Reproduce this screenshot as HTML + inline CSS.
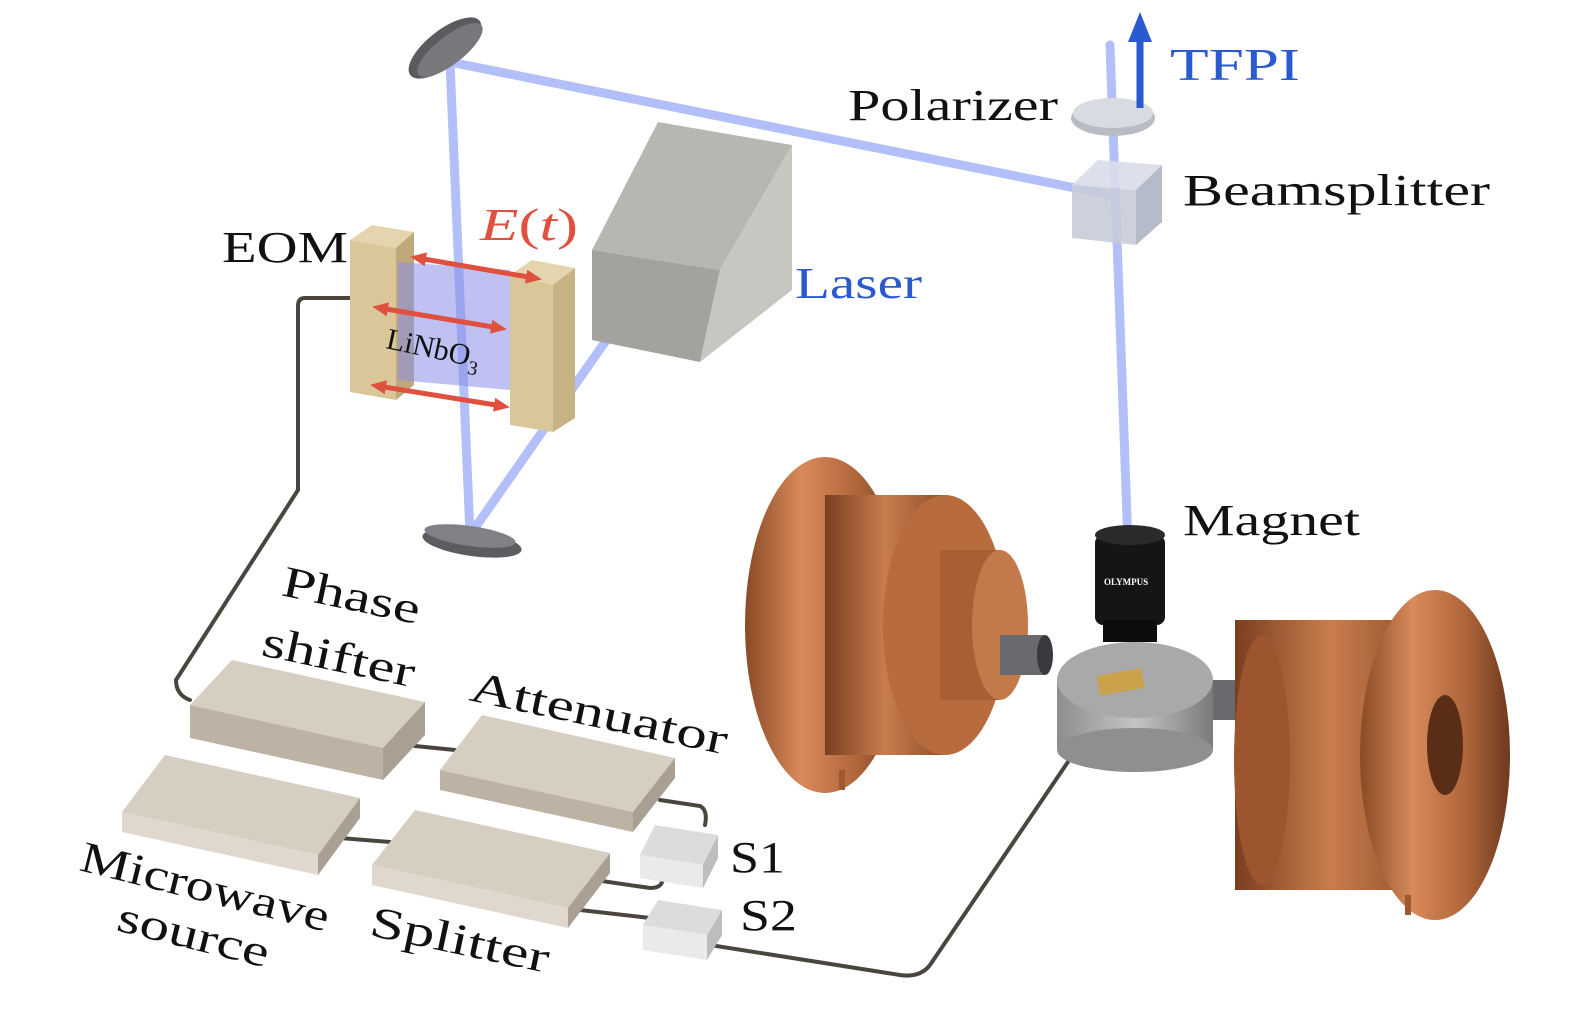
<!DOCTYPE html>
<html><head><meta charset="utf-8"><style>
html,body{margin:0;padding:0;background:#fff;}
svg{display:block;}
text{font-family:"Liberation Serif",serif;}
</style></head><body>
<svg width="1575" height="1014" viewBox="0 0 1575 1014" xmlns="http://www.w3.org/2000/svg">
<defs>
<linearGradient id="cu" x1="0" x2="1" y1="0" y2="0">
<stop offset="0" stop-color="#8a4a26"/><stop offset="0.35" stop-color="#d88a5a"/><stop offset="0.7" stop-color="#b0663a"/><stop offset="1" stop-color="#6e3a1e"/></linearGradient>
<linearGradient id="cu2" x1="0" x2="1" y1="0" y2="0">
<stop offset="0" stop-color="#7a3e20"/><stop offset="0.5" stop-color="#c97d4e"/><stop offset="1" stop-color="#8e4e2a"/></linearGradient>
<linearGradient id="metal" x1="0" x2="1"><stop offset="0" stop-color="#8d8d8d"/><stop offset="0.5" stop-color="#c4c4c4"/><stop offset="1" stop-color="#7a7a7a"/></linearGradient>
<marker id="ra" markerUnits="userSpaceOnUse" markerWidth="16" markerHeight="14" refX="8" refY="7" orient="auto-start-reverse"><path d="M0,0L16,7L0,14z" fill="#e0503e"/></marker>
</defs>

<!-- cables -->
<g fill="none" stroke="#4a463f" stroke-width="4" stroke-linecap="round">
<path d="M350,298 L305,298 Q298,298 298,306 L298,490 L176,680 Q176,695 190,700"/>
<path d="M405,745 L455,750"/>
<path d="M660,800 L700,806 Q708,810 705,825"/>
<path d="M340,838 L390,842"/>
<path d="M595,880 L650,888 Q665,888 662,875"/>
<path d="M580,910 L650,918"/>
<path d="M710,945 L900,975 Q920,978 930,965 L1110,700"/>
</g>

<!-- beams -->
<g stroke="#b2bff9" stroke-width="9" stroke-linecap="round">
<line x1="450" y1="62" x2="1110" y2="195"/>
<line x1="450" y1="62" x2="470" y2="535"/>
<line x1="470" y1="535" x2="640" y2="292"/>
<line x1="1110" y1="45" x2="1128" y2="545"/>
</g>

<!-- mirrors -->
<ellipse cx="445" cy="48" rx="44" ry="18" transform="rotate(-38 445 48)" fill="#5b5b5f"/>
<ellipse cx="450" cy="50" rx="40" ry="14" transform="rotate(-38 450 50)" fill="#77777c"/>
<ellipse cx="472" cy="543" rx="50" ry="13" transform="rotate(8 472 543)" fill="#5c5c60"/>
<ellipse cx="470" cy="536" rx="46" ry="10" transform="rotate(8 470 536)" fill="#808086"/>

<!-- laser box -->
<polygon points="592,250 658,122 792,145 720,270" fill="#b8b6b0"/>
<polygon points="592,250 720,270 700,362 592,340" fill="#a4a29c"/>
<polygon points="720,270 792,145 792,290 700,362" fill="#c8c6c0"/>

<!-- EOM -->
<polygon points="350,240 372,225 414,232 396,248" fill="#e4d5ae"/>
<polygon points="350,240 396,248 396,400 350,392" fill="#d9c79a"/>
<polygon points="396,248 414,232 414,385 396,400" fill="#bfa97a"/>
<polygon points="398,262 510,270 510,390 398,380" fill="#8a8ee8" opacity="0.55"/>
<polygon points="510,275 532,260 575,268 553,285" fill="#e4d5ae"/>
<polygon points="510,275 553,285 553,432 510,425" fill="#d9c79a"/>
<polygon points="553,285 575,268 575,418 553,432" fill="#c7b283"/>
<g stroke="#e0503e" stroke-width="5" marker-end="url(#ra)" marker-start="url(#ra)">
<line x1="418" y1="258" x2="534" y2="278"/>
<line x1="380" y1="308" x2="499" y2="328"/>
<line x1="378" y1="386" x2="502" y2="406"/>
</g>

<!-- magnets left -->
<ellipse cx="825" cy="625" rx="80" ry="168" fill="url(#cu)"/>
<rect x="825" y="495" width="120" height="260" fill="url(#cu2)"/>
<ellipse cx="945" cy="625" rx="62" ry="130" fill="#b86c3e"/>
<rect x="940" y="550" width="60" height="150" fill="#a95f34"/>
<ellipse cx="1000" cy="625" rx="28" ry="75" fill="#c27a4a"/>
<rect x="1000" y="635" width="45" height="40" fill="#6a6a6e"/>
<ellipse cx="1045" cy="655" rx="8" ry="20" fill="#3a3a3e"/>
<line x1="842" y1="770" x2="842" y2="790" stroke="#a0582e" stroke-width="6"/>
<!-- magnet right -->
<rect x="1205" y="680" width="30" height="40" fill="#6a6a6e"/>
<rect x="1235" y="620" width="190" height="270" fill="url(#cu2)"/>
<ellipse cx="1262" cy="760" rx="28" ry="125" fill="#9d5530"/>
<ellipse cx="1435" cy="755" rx="75" ry="165" fill="url(#cu)"/>
<ellipse cx="1445" cy="745" rx="18" ry="50" fill="#5a2e16"/>
<line x1="1408" y1="895" x2="1408" y2="915" stroke="#a0582e" stroke-width="6"/>

<!-- stage -->
<rect x="1057" y="680" width="156" height="70" fill="url(#metal)"/>
<ellipse cx="1135" cy="750" rx="78" ry="22" fill="#8f8f8f"/>
<ellipse cx="1135" cy="680" rx="78" ry="38" fill="#a9a9a9"/>
<rect x="1098" y="672" width="45" height="20" fill="#c9a24a" transform="rotate(-10 1120 682)"/>
<!-- objective -->
<rect x="1095" y="535" width="70" height="90" rx="8" fill="#151515"/>
<ellipse cx="1130" cy="535" rx="35" ry="10" fill="#2a2a2a"/>
<rect x="1103" y="620" width="54" height="22" fill="#0d0d0d"/>
<text x="1104" y="585" font-size="9" fill="#fff" font-family="Liberation Sans,sans-serif" font-weight="bold">OLYMPUS</text>

<!-- beamsplitter & polarizer -->
<polygon points="1072,185 1098,160 1162,165 1136,190" fill="#d9dde8" opacity="0.9"/>
<polygon points="1072,185 1136,190 1136,245 1072,238" fill="#c7ccd8" opacity="0.9"/>
<polygon points="1136,190 1162,165 1162,222 1136,245" fill="#aeb4c4" opacity="0.9"/>
<ellipse cx="1113" cy="118" rx="42" ry="18" fill="#b8bcc4"/>
<ellipse cx="1113" cy="113" rx="40" ry="15" fill="#d8dbe2"/>
<!-- TFPI arrow -->
<line x1="1140" y1="108" x2="1140" y2="38" stroke="#2a5ad0" stroke-width="7"/>
<polygon points="1128,42 1140,12 1152,42" fill="#2a5ad0"/>

<!-- slabs -->
<g>
<polygon points="190,705 232,660 425,702 383,748" fill="#d7cec2"/>
<polygon points="190,705 383,748 383,780 190,738" fill="#bdb2a4"/>
<polygon points="383,748 425,702 425,735 383,780" fill="#a9a093"/>
<polygon points="440,770 482,715 675,758 633,812" fill="#d7cec2"/>
<polygon points="440,770 633,812 633,832 440,790" fill="#bdb2a4"/>
<polygon points="633,812 675,758 675,778 633,832" fill="#a9a093"/>
<polygon points="122,812 165,755 360,798 318,855" fill="#d7cec2"/>
<polygon points="122,812 318,855 318,875 122,832" fill="#e0d8cc"/>
<polygon points="318,855 360,798 360,818 318,875" fill="#a9a093"/>
<polygon points="372,865 415,810 610,853 568,908" fill="#d7cec2"/>
<polygon points="372,865 568,908 568,928 372,885" fill="#e0d8cc"/>
<polygon points="568,908 610,853 610,873 568,928" fill="#a9a093"/>
<polygon points="640,855 655,825 718,835 703,865" fill="#dcdcdc"/>
<polygon points="640,855 703,865 703,888 640,878" fill="#eaeaea"/>
<polygon points="703,865 718,835 718,858 703,888" fill="#bdbdbd"/>
<polygon points="643,925 658,900 722,910 707,935" fill="#dcdcdc"/>
<polygon points="643,925 707,935 707,960 643,950" fill="#eaeaea"/>
<polygon points="707,935 722,910 722,935 707,960" fill="#bdbdbd"/>
</g>

<!-- labels -->
<g font-size="44" fill="#111" lengthAdjust="spacingAndGlyphs">
<text x="222" y="262" textLength="126" lengthAdjust="spacingAndGlyphs">EOM</text>
<text x="848" y="120" textLength="210" lengthAdjust="spacingAndGlyphs">Polarizer</text>
<text x="1183" y="205" textLength="307" lengthAdjust="spacingAndGlyphs">Beamsplitter</text>
<text x="1183" y="535" textLength="177" lengthAdjust="spacingAndGlyphs">Magnet</text>
<text x="730" y="872" textLength="55" lengthAdjust="spacingAndGlyphs">S1</text>
<text x="740" y="930" textLength="57" lengthAdjust="spacingAndGlyphs">S2</text>
<text transform="translate(280,595) rotate(12)" textLength="140" lengthAdjust="spacingAndGlyphs">Phase</text>
<text transform="translate(260,655) rotate(12)" textLength="155" lengthAdjust="spacingAndGlyphs">shifter</text>
<text transform="translate(468,700) rotate(12)" textLength="262" lengthAdjust="spacingAndGlyphs">Attenuator</text>
<text transform="translate(78,870) rotate(14)" textLength="255" lengthAdjust="spacingAndGlyphs">Microwave</text>
<text transform="translate(115,930) rotate(14)" textLength="155" lengthAdjust="spacingAndGlyphs">source</text>
<text transform="translate(368,935) rotate(12)" textLength="182" lengthAdjust="spacingAndGlyphs">Splitter</text>
</g>
<text transform="translate(385,348) rotate(12)" font-size="30" fill="#111">LiNbO<tspan font-size="20" dy="8">3</tspan></text>
<text x="480" y="240" font-size="46" fill="#e0503e" font-style="italic" textLength="98" lengthAdjust="spacingAndGlyphs">E<tspan font-style="normal">(</tspan>t<tspan font-style="normal">)</tspan></text>
<text x="795" y="298" font-size="44" fill="#2a5ad0" textLength="127" lengthAdjust="spacingAndGlyphs">Laser</text>
<text x="1170" y="80" font-size="46" fill="#2a5ad0" textLength="130" lengthAdjust="spacingAndGlyphs">TFPI</text>
</svg>
</body></html>
